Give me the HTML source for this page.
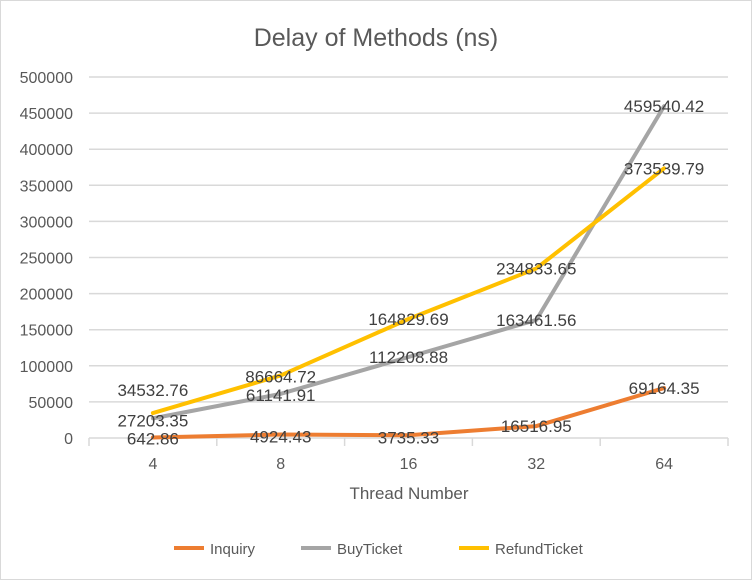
<!DOCTYPE html>
<html><head><meta charset="utf-8"><style>
body{margin:0;background:#fff;}
svg text{font-family:"Liberation Sans Narrow","Liberation Sans",sans-serif;}
</style></head><body>
<svg id="chart" width="752" height="580" viewBox="0 0 752 580" xmlns="http://www.w3.org/2000/svg">
<rect x="0.5" y="0.5" width="751" height="579" fill="#fff" stroke="#D9D9D9"/>
<text x="376" y="46" text-anchor="middle" font-size="25" fill="#595959">Delay of Methods (ns)</text>
<g id="grid"></g><g id="yticks"></g><g id="xticks"></g><g id="series"></g><g id="labels"></g>
<text x="409" y="499" text-anchor="middle" font-size="17" fill="#595959">Thread Number</text>
<g id="legend"></g>
</svg>
<script>
const categories=["4","8","16","32","64"];
const seriesNames=["Inquiry","BuyTicket","RefundTicket"];
const inquiry=[642.86,4924.43,3735.33,16516.95,69164.35];
const buyTicket=[27203.35,61141.91,112208.88,163461.56,459540.42];
const refundTicket=[34532.76,86664.72,164829.69,234833.65,373539.79];
const yTicks=[0,50000,100000,150000,200000,250000,300000,350000,400000,450000,500000];
const colors=["#ED7D31","#A5A5A5","#FFC000"];
const labelDy=[[1,2,2,0,0],[2,1,0,0,0],[-23,1,0,0,0]];
const NS="http://www.w3.org/2000/svg";
const x0=89,x1=728,yB=438,yT=77,yMax=500000;
const xs=i=>x0+(i+0.5)*(x1-x0)/categories.length;
const ys=v=>yB-(v/yMax)*(yB-yT);
function mk(t,a,p){const e=document.createElementNS(NS,t);for(const k in a)e.setAttribute(k,a[k]);document.getElementById(p).appendChild(e);return e;}
yTicks.forEach(v=>{
 const l=mk('line',{x1:x0,x2:x1,y1:ys(v),y2:ys(v),stroke:'#D9D9D9','stroke-width':1.5},'grid');
 
 
 const t=mk('text',{x:73,y:ys(v)+6,'text-anchor':'end','font-size':16,fill:'#595959'},'yticks');
 t.textContent=v;
 
 
});
for(let i=0;i<=categories.length;i++){
 const x=x0+i*(x1-x0)/categories.length;
 const tk=mk('line',{x1:x,x2:x,y1:yB,y2:yB+8,stroke:'#D9D9D9','stroke-width':1.5},'grid');
 
 
}
categories.forEach((c,i)=>{
 const t=mk('text',{x:xs(i),y:469,'text-anchor':'middle','font-size':16,fill:'#595959'},'xticks');
 t.textContent=c;
 
 
});
[inquiry,buyTicket,refundTicket].forEach((arr,s)=>{
 const pts=arr.map((v,i)=>xs(i)+','+ys(v)).join(' ');
 const pl=mk('polyline',{points:pts,fill:'none',stroke:colors[s],'stroke-width':4,'stroke-linecap':'round','stroke-linejoin':'round'},'series');
 
 
});
[inquiry,buyTicket,refundTicket].forEach((arr,s)=>{
 arr.forEach((v,i)=>{
  const t=mk('text',{x:xs(i),y:ys(v)+6+labelDy[s][i],'text-anchor':'middle','font-size':17,fill:'#404040'},'labels');
  t.textContent=v.toFixed(2);
  
  
 });
});
const lx=[174,301,459];
seriesNames.forEach((n,s)=>{
 const l=mk('line',{x1:lx[s],x2:lx[s]+30,y1:548,y2:548,stroke:colors[s],'stroke-width':4},'legend');
 
 
 const t=mk('text',{x:lx[s]+36,y:554,'font-size':15,fill:'#595959'},'legend');
 t.textContent=n;
 
 
});
</script>
</body></html>
